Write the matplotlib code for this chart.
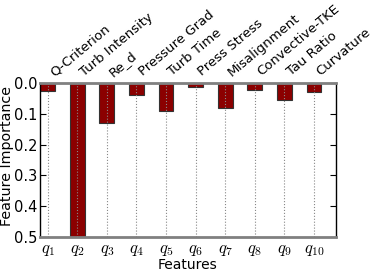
import matplotlib
matplotlib.use("Agg")
import matplotlib.pyplot as plt
import numpy as np

features = ["Q-Criterion", "Turb Intensity", "Re_d", "Pressure Grad", "Turb Time",
            "Press Stress", "Misalignment", "Convective-TKE", "Tau Ratio", "Curvature"]
qlabels = [r"$q_{%d}$" % i for i in range(1, 11)]
importance = [0.027, 0.52, 0.129, 0.040, 0.092, 0.012, 0.082, 0.024, 0.055, 0.029]

plt.rcParams['mathtext.fontset'] = 'cm'
fig = plt.figure(figsize=(3.74, 2.71), dpi=100)
ax = fig.add_axes([0.107, 0.125, 0.791, 0.569])
x = np.arange(1, 11)
ax.bar(x, importance, width=0.5, color='#8b0000', edgecolor='#333333', linewidth=0.8)
ax.set_xlim(0.74, 10.74)
ax.set_ylim(0.5, 0.0)
ax.set_yticks([0.0, 0.1, 0.2, 0.3, 0.4, 0.5])
ax.set_yticklabels(["0.0", "0.1", "0.2", "0.3", "0.4", "0.5"], fontsize=10.5)
ax.set_xticks(x)
ax.set_xticklabels(qlabels, fontsize=12)
ax.tick_params(axis='x', length=0, pad=2)
ax.tick_params(axis='y', direction='in', length=4, right=True, pad=2)
ax.grid(axis='x', linestyle=':', color='#888888', linewidth=0.8)
ax.set_xlabel("Features", fontsize=10, labelpad=0)
ax.set_ylabel("Feature Importance", fontsize=10.3)
ax.yaxis.set_label_coords(-0.088, 0.526)
for s in ['top', 'bottom']:
    ax.spines[s].set_color('#808080')
    ax.spines[s].set_linewidth(2)
for s in ['left', 'right']:
    ax.spines[s].set_color('black')
    ax.spines[s].set_linewidth(1)

ax2 = ax.twiny()
ax2.set_xlim(ax.get_xlim())
ax2.set_xticks(x)
ax2.set_xticklabels(features, rotation=40, ha='left', fontsize=9.5)
ax2.tick_params(axis='x', length=0, pad=3)
for s in ax2.spines.values():
    s.set_visible(False)

fig.savefig("out.png", dpi=100)
